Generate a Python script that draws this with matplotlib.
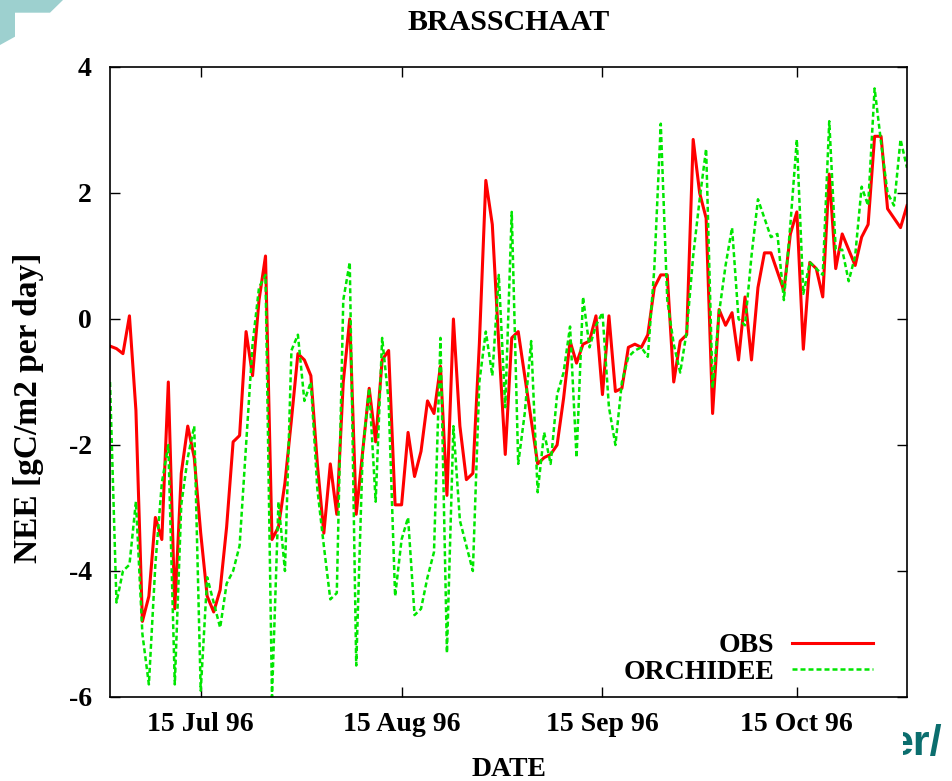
import datetime as dt

import matplotlib
matplotlib.use("Agg")
import matplotlib.pyplot as plt
import matplotlib.dates as mdates
from matplotlib.patches import Polygon, Rectangle

plt.rcParams['font.family'] = ['Liberation Serif', 'DejaVu Serif']
plt.rcParams['font.weight'] = 'bold'
plt.rcParams['axes.unicode_minus'] = False

# Daily net ecosystem exchange at Brasschaat, 1 Jul - 1 Nov 1996 (gC/m2 per day)
start_date = dt.date(1996, 7, 1)

obs = [
    -0.43, -0.47, -0.55, 0.05, -1.45, -4.8, -4.4, -3.15, -3.5, -1.0,
    -4.6, -2.45, -1.7, -2.2, -3.4, -4.4, -4.65, -4.3, -3.3, -1.95,
    -1.85, -0.2, -0.9, 0.3, 1.0, -3.5, -3.3, -2.6, -1.6, -0.55,
    -0.65, -0.9, -2.3, -3.4, -2.3, -3.1, -1.0, 0.0, -3.1, -2.1,
    -1.1, -1.95, -0.65, -0.5, -2.95, -2.95, -1.8, -2.5, -2.1, -1.3,
    -1.5, -0.75, -2.8, 0.0, -1.7, -2.55, -2.45, -0.4, 2.2, 1.5,
    -0.4, -2.15, -0.3, -0.2, -0.9, -1.6, -2.3, -2.2, -2.15, -2.0,
    -1.26, -0.35, -0.7, -0.4, -0.35, 0.05, -1.2, 0.05, -1.15, -1.1,
    -0.45, -0.4, -0.45, -0.25, 0.5, 0.7, 0.7, -1.0, -0.35, -0.25,
    2.85, 2.0, 1.6, -1.5, 0.15, -0.1, 0.1, -0.65, 0.35, -0.65,
    0.5, 1.05, 1.05, 0.75, 0.45, 1.35, 1.7, -0.48, 0.9, 0.8,
    0.35, 2.3, 0.8, 1.35, 1.1, 0.85, 1.3, 1.5, 2.9, 2.9,
    1.75, 1.6, 1.45, 1.8,
]

orchidee = [
    -1.0, -4.5, -4.0, -3.9, -2.9, -5.0, -5.8, -3.9, -2.6, -2.0,
    -5.8, -2.95, -2.2, -1.7, -5.9, -4.1, -4.5, -4.9, -4.2, -4.0,
    -3.6, -2.0, -0.4, 0.5, 0.7, -6.0, -2.9, -4.0, -0.5, -0.25,
    -1.3, -1.0, -2.7, -3.6, -4.45, -4.35, 0.3, 0.9, -5.5, -2.1,
    -1.1, -2.9, -0.3, -1.3, -4.4, -3.5, -3.15, -4.7, -4.6, -4.1,
    -3.7, -0.3, -5.3, -1.7, -3.2, -3.6, -4.0, -1.0, -0.2, -0.9,
    0.7, -1.4, 1.7, -2.3, -1.5, -0.35, -2.75, -1.8, -2.3, -1.2,
    -0.85, -0.12, -2.2, 0.35, -0.45, -0.1, 0.1, -1.4, -2.0, -1.0,
    -0.6, -0.5, -0.45, -0.6, 0.8, 3.1, 0.3, -0.4, -0.85, -0.2,
    1.0, 1.9, 2.7, -1.1, 0.1, 0.85, 1.45, 0.0, -0.1, 1.0,
    1.9, 1.6, 1.3, 1.35, 0.3, 1.5, 2.85, 0.4, 0.9, 0.8,
    0.7, 3.14, 1.1, 1.1, 0.6, 1.0, 2.1, 1.8, 3.66, 2.8,
    2.0, 1.8, 2.85, 2.4,
]

days = [start_date + dt.timedelta(days=i) for i in range(len(obs))]
x_ticks = [dt.date(1996, m, 15) for m in (7, 8, 9, 10)]
y_ticks = [-6, -4, -2, 0, 2, 4]

W, H = 952, 781
fig = plt.figure(figsize=(W / 100, H / 100), dpi=100)


def fx(px):
    return px / W


def fy(py):
    return 1 - py / H


ax = fig.add_axes([fx(110), fy(697), fx(907) - fx(110), fy(67) - fy(697)])

ax.plot(days, obs, color='#ff0000', lw=2.2, label='OBS')
ax.plot(days, orchidee, color='#00e600', lw=1.8, dashes=(2.0, 1.2),
        label='ORCHIDEE')

ax.set_xlim(dt.date(1996, 7, 1), dt.date(1996, 11, 1))
ax.set_ylim(-6, 4)
ax.set_xticks(x_ticks)
ax.xaxis.set_major_formatter(mdates.DateFormatter('%d %b %y'))
ax.set_yticks(y_ticks)
ax.tick_params(direction='in', length=7, width=1, top=True, right=True,
               labelsize=20, colors='black')
ax.tick_params(axis='y', pad=13)
ax.tick_params(axis='x', pad=11)
for spine in ax.spines.values():
    spine.set_linewidth(1.2)

leg = ax.legend(loc='center right',
                bbox_to_anchor=((873 - 110) / 797, (697 - 659) / 630),
                markerfirst=False, frameon=False, fontsize=20,
                handlelength=2.9, handletextpad=0.65, labelspacing=0.05,
                borderpad=0, borderaxespad=0)

fig.text(fx(508.5), fy(22), 'BRASSCHAAT', ha='center', va='center',
         fontsize=21.5, weight='bold')
fig.text(fx(28.5), fy(408), 'NEE [gC/m2 per day]', ha='center', va='center',
         rotation=90, fontsize=24, weight='bold')
fig.text(fx(508.5), fy(770), 'DATE', ha='center', va='center',
         fontsize=20, weight='bold')

# slide decorations around the chart
fig.patches.append(Polygon(
    [[fx(0), fy(0)], [fx(63), fy(0)], [fx(50), fy(12.7)], [fx(15), fy(12.7)],
     [fx(15), fy(36.7)], [fx(0), fy(45)]],
    closed=True, transform=fig.transFigure, facecolor='#9dd0cf',
    edgecolor='none', zorder=0))
fig.text(fx(889), fy(755), 'er/', ha='left', va='baseline', fontsize=31,
         family=['Liberation Sans', 'DejaVu Sans'], weight='bold',
         color='#0b6e6e', zorder=2)
fig.patches.append(Rectangle((fx(860), fy(781)), fx(903) - fx(860),
                             fy(722) - fy(781), transform=fig.transFigure,
                             facecolor='white', edgecolor='none', zorder=4))

fig.savefig('out.png', dpi=100)
